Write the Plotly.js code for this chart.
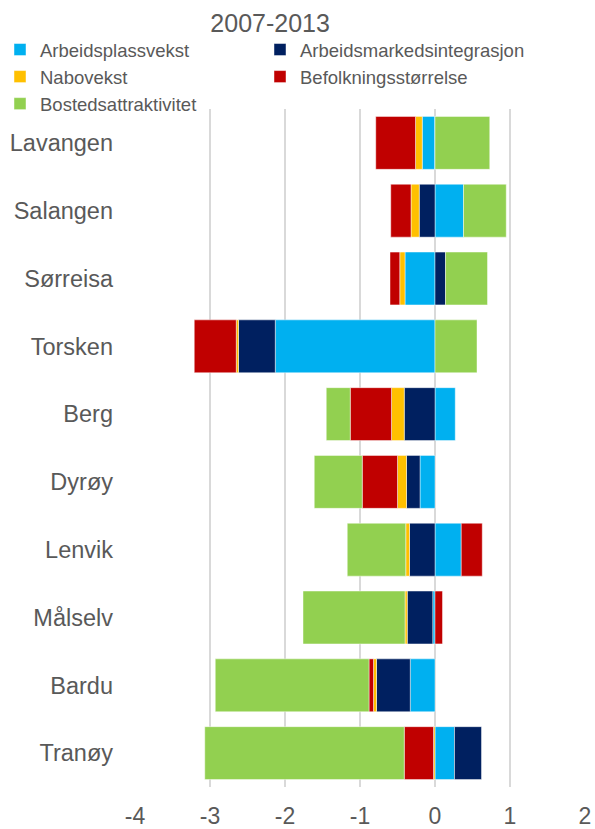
<!DOCTYPE html>
<html>
<head>
<meta charset="utf-8">
<script src="https://cdn.plot.ly/plotly-3.0.1.min.js"></script>
<style>html,body{margin:0;padding:0;background:#fff;}#chart{width:595px;height:829px;}</style>
</head>
<body>
<div id="chart"></div>
<script>
const kommuner = ["Lavangen","Salangen","Sørreisa","Torsken","Berg","Dyrøy","Lenvik","Målselv","Bardu","Tranøy"];
const arbeidsplassvekst        = [-0.17, 0.38, -0.40, -2.13, 0.27, -0.20, 0.35, -0.03, -0.33, 0.26];
const arbeidsmarkedsintegrasjon = [0.00, -0.21, 0.14, -0.49, -0.41, -0.18, -0.34, -0.34, -0.45, 0.36];
const nabovekst                 = [-0.09, -0.11, -0.07, -0.03, -0.17, -0.12, -0.05, -0.03, -0.04, -0.02];
const befolkningsstorrelse      = [-0.53, -0.27, -0.13, -0.56, -0.55, -0.47, 0.28, 0.10, -0.06, -0.39];
const bostedsattraktivitet      = [0.73, 0.57, 0.56, 0.56, -0.32, -0.64, -0.78, -1.36, -2.05, -2.66];

const seriesNames = ["Arbeidsplassvekst","Arbeidsmarkedsintegrasjon","Nabovekst","Befolkningsstørrelse","Bostedsattraktivitet"];
const seriesValues = [arbeidsplassvekst, arbeidsmarkedsintegrasjon, nabovekst, befolkningsstorrelse, bostedsattraktivitet];
const colors = ["#00B0F0","#002060","#FFC000","#C00000","#92D050"];
const legendColumn = ["legend","legend2","legend","legend2","legend"];
const xTicks = [-4,-3,-2,-1,0,1,2];

const traces = seriesNames.map((n,i)=>({
  type:'bar', orientation:'h', name:n,
  y:kommuner, x:seriesValues[i],
  legend:legendColumn[i],
  marker:{color:colors[i], line:{color:'rgba(255,255,255,0.6)', width:0.75}},
  hoverinfo:'x+name'
}));

const fontFam = '"Liberation Sans", Arial, sans-serif';
const legendBase = {orientation:'v', xref:'container', yref:'container', y:1-31/829, yanchor:'top', xanchor:'left',
          font:{size:18.5, color:'#595959', family:fontFam}, traceorder:'normal', bgcolor:'rgba(0,0,0,0)'};
const layout = {
  width:595, height:829,
  paper_bgcolor:'#fff', plot_bgcolor:'#fff',
  barmode:'relative', bargap:0.22,
  margin:{l:135, r:10, t:109, b:42, autoexpand:false},
  font:{family:fontFam, color:'#595959'},
  title:{text:'2007-2013', font:{size:25, color:'#595959', family:fontFam},
         xref:'container', x:0.454, xanchor:'center', yref:'container', y:0.972, yanchor:'middle'},
  showlegend:true,
  legend:Object.assign({}, legendBase, {x:0}),
  legend2:Object.assign({}, legendBase, {x:260/595}),
  xaxis:{range:[-4,2], tickvals:xTicks, ticktext:xTicks.map(String), showgrid:true, gridcolor:'#d9d9d9', gridwidth:1.5,
         zeroline:true, zerolinecolor:'#d9d9d9', zerolinewidth:1.5, showline:false, ticks:'',
         tickfont:{size:23, color:'#595959'}, ticklabelstandoff:13, fixedrange:true},
  yaxis:{type:'category', categoryorder:'array', categoryarray:kommuner, autorange:'reversed',
         showgrid:false, zeroline:false, showline:false, ticks:'',
         tickfont:{size:23.5, color:'#595959'}, ticklabelstandoff:21, fixedrange:true}
};
Plotly.newPlot('chart', traces, layout, {displayModeBar:false, staticPlot:true});
</script>
</body>
</html>
